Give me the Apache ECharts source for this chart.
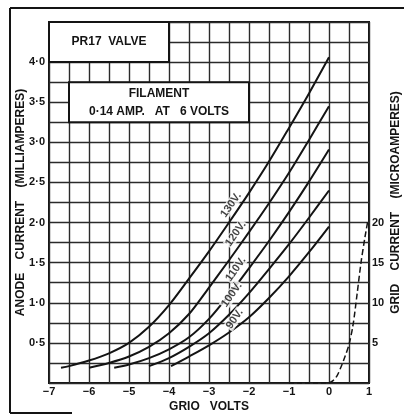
<!DOCTYPE html>
<html>
<head>
<meta charset="utf-8">
<script src="https://cdn.jsdelivr.net/npm/echarts@6/dist/echarts.min.js"></script>
<style>
  html, body { margin: 0; padding: 0; background: #fff; }
  #chart { width: 404px; height: 415px; }
</style>
</head>
<body>
<div id="chart"></div>
<script>
// Anode current (mA) against grid volts, one curve per anode voltage
const curve130V = [[-6.7,0.19],[-6.5,0.21],[-6.0,0.28],[-5.5,0.37],[-5.0,0.50],[-4.5,0.70],[-4.0,0.97],[-3.5,1.30],[-3.0,1.64],[-2.5,2.00],[-2.0,2.37],[-1.5,2.76],[-1.0,3.18],[-0.5,3.61],[0,4.06]];
const curve120V = [[-6.0,0.19],[-5.5,0.25],[-5.0,0.33],[-4.5,0.45],[-4.0,0.62],[-3.5,0.86],[-3.0,1.19],[-2.5,1.53],[-2.0,1.88],[-1.5,2.24],[-1.0,2.62],[-0.5,3.03],[0,3.45]];
const curve110V = [[-5.37,0.19],[-5.0,0.23],[-4.5,0.31],[-4.0,0.42],[-3.5,0.57],[-3.0,0.80],[-2.5,1.10],[-2.0,1.43],[-1.5,1.77],[-1.0,2.13],[-0.5,2.51],[0,2.91]];
const curve100V = [[-4.5,0.21],[-4.0,0.31],[-3.5,0.45],[-3.0,0.62],[-2.5,0.85],[-2.0,1.12],[-1.5,1.42],[-1.0,1.73],[-0.5,2.06],[0,2.40]];
const curve90V  = [[-3.95,0.21],[-3.5,0.33],[-3.0,0.47],[-2.5,0.63],[-2.0,0.82],[-1.5,1.06],[-1.0,1.33],[-0.5,1.63],[0,1.95]];

const curveNames = ['130V.', '120V.', '110V.', '100V.', '90V.'];
const curveLabelAt = [[-2.45,2.22],[-2.33,1.86],[-2.33,1.42],[-2.43,1.10],[-2.36,0.80]];

// Grid current (µA) against grid volts, dashed
const gridCurrentZero = [[-1,0],[0,0]];
const gridCurrent = [[0,0],[0.1,0.3],[0.2,0.9],[0.3,2.0],[0.4,3.3],[0.5,4.8],[0.6,7.2],[0.7,11.0],[0.8,15.0],[0.9,18.2],[0.97,20.2]];

// Axis tick labels
const voltTicks = [-7,-6,-5,-4,-3,-2,-1,0,1];
const anodeTicks = ['0·5','1·0','1·5','2·0','2·5','3·0','3·5','4·0'];
const gridTicks = [5,10,15,20];

// Caption boxes: [corner, corner, text]
const titleBox = [[-7,4.5],[-4,4.0],'PR17  VALVE'];
const filamentBox = [[-6.5,3.75],[-2,3.25],'FILAMENT\n0·14 AMP.   AT   6 VOLTS'];

const FONT = 'Liberation Sans';
const INK = '#141414';

const chart = echarts.init(document.getElementById('chart'), null, { renderer: 'canvas' });

const curveSeries = [curve130V, curve120V, curve110V, curve100V, curve90V].map((d, k) => ({
  name: curveNames[k],
  type: 'line',
  data: d,
  smooth: 0.3,
  symbol: 'none',
  lineStyle: { color: INK, width: 2 },
  z: 3
}));

const boxArea = (b) => ([
  { coord: b[0], label: { formatter: b[2] } },
  { coord: b[1] }
]);

const nameStyle = { color: INK, fontWeight: 'bold', fontSize: 12, fontFamily: FONT };
const tickStyle = { color: INK, fontWeight: 'bold', fontSize: 11, fontFamily: FONT };

chart.setOption({
  backgroundColor: '#fff',
  animation: false,
  textStyle: { fontFamily: FONT },
  grid: {
    left: 49, right: 35, top: 22, bottom: 32,
    containLabel: false,
    outerBoundsMode: 'none',
    show: true,
    borderColor: INK,
    borderWidth: 2,
    backgroundColor: 'transparent'
  },
  xAxis: {
    type: 'value',
    min: -7, max: 1, interval: 0.5,
    axisLine: { show: false },
    axisTick: { show: false },
    splitLine: { show: true, lineStyle: { color: '#2a2a2a', width: 1.4 } },
    axisLabel: Object.assign({
      margin: 3,
      formatter: (v) => voltTicks.includes(v) ? (v < 0 ? '\u2212' + Math.abs(v) : String(v)) : ''
    }, tickStyle),
    name: 'GRIO   VOLTS',
    nameLocation: 'middle',
    nameGap: 18,
    nameMoveOverlap: false,
    nameTextStyle: nameStyle
  },
  yAxis: [
    {
      type: 'value',
      min: 0, max: 4.5, interval: 0.25,
      axisLine: { show: false },
      axisTick: { show: false },
      splitLine: { show: true, lineStyle: { color: '#2a2a2a', width: 1.4 } },
      axisLabel: Object.assign({
        margin: 4,
        formatter: (v) => {
          const t = v.toFixed(1).replace('.', '·');
          return anodeTicks.includes(t) && Math.abs(v * 2 - Math.round(v * 2)) < 1e-9 ? t : '';
        }
      }, tickStyle),
      name: 'ANODE    CURRENT    (MILLIAMPERES)',
      nameLocation: 'middle',
      nameRotate: 90,
      nameGap: 22,
      nameMoveOverlap: false,
      nameTextStyle: nameStyle
    },
    {
      type: 'value',
      min: 0, max: 45, interval: 5,
      position: 'right',
      axisLine: { show: false },
      axisTick: { show: false },
      splitLine: { show: false },
      axisLabel: Object.assign({
        margin: 3,
        formatter: (v) => gridTicks.includes(v) ? String(v) : ''
      }, tickStyle),
      name: 'GRID    CURRENT    (MICROAMPERES)',
      nameLocation: 'middle',
      nameRotate: 90,
      nameGap: 21,
      nameMoveOverlap: false,
      nameTextStyle: nameStyle
    }
  ],
  series: [
    ...curveSeries,
    {
      type: 'scatter',
      data: curveLabelAt.map((p, k) => ({ value: p, name: curveNames[k] })),
      symbolSize: 0,
      silent: true,
      label: Object.assign({
        show: true,
        position: 'inside',
        rotate: 55,
        formatter: (p) => p.name,
        backgroundColor: '#fff', padding: [0, 1]
      }, tickStyle),
      z: 4
    },
    {
      type: 'line',
      yAxisIndex: 1,
      data: gridCurrentZero,
      symbol: 'none',
      lineStyle: { color: INK, width: 1.5, type: [5, 3] },
      z: 3
    },
    {
      type: 'line',
      yAxisIndex: 1,
      data: gridCurrent,
      smooth: 0.3,
      symbol: 'none',
      lineStyle: { color: INK, width: 1.5, type: [6, 3] },
      z: 3
    },
    {
      type: 'line',
      data: [],
      markArea: {
        silent: true,
        itemStyle: { color: '#fff', borderColor: INK, borderWidth: 2 },
        label: Object.assign({
          show: true,
          position: 'inside',
          lineHeight: 18, align: 'center'
        }, tickStyle, { fontSize: 12 }),
        data: [boxArea(titleBox), boxArea(filamentBox)]
      },
      z: 2
    }
  ],
  graphic: [
    { type: 'line', shape: { x1: 10, y1: 8, x2: 10, y2: 413 }, style: { stroke: INK, lineWidth: 2 } },
    { type: 'line', shape: { x1: 10, y1: 8, x2: 404, y2: 8 }, style: { stroke: INK, lineWidth: 2 } },
    { type: 'line', shape: { x1: 10, y1: 413, x2: 72, y2: 413 }, style: { stroke: INK, lineWidth: 2 } }
  ]
});
</script>
</body>
</html>
